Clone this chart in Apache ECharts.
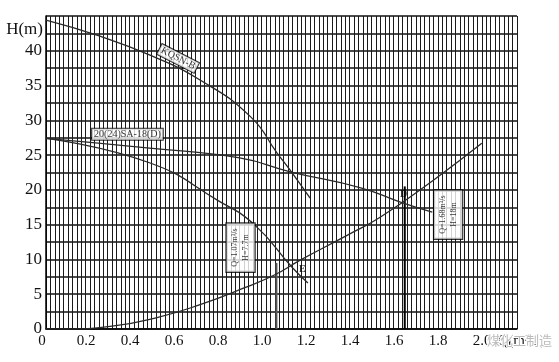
<!DOCTYPE html>
<html><head><meta charset="utf-8">
<script src="https://cdn.jsdelivr.net/npm/echarts@6/dist/echarts.min.js"></script>
<style>html,body{margin:0;padding:0;background:#fff}#c{width:559px;height:362px}</style>
</head><body><div id="c"></div>
<script>
// Pump curve KQSN-B : [Q (m3/s), H (m)]
const pumpKQS = [[0,44.4],[0.245,42.1],[0.47,39.4],[0.70,35.8],[0.93,30.5],[1.05,25.3],[1.11,22.8],[1.2,18.8]];
// Pump curve 20(24)SA-18(D), upper branch
const pumpSAUpper = [[0,27.4],[0.47,26.0],[0.88,24.6],[1.11,22.6],[1.43,20.3],[1.61,18.25],[1.755,16.8]];
// lower branch
const pumpSALower = [[0,27.4],[0.47,23.9],[0.78,18.5],[0.95,14.9],[1.12,8.8],[1.19,6.6]];
// System curve
const systemCurve = [[0,0],[0.08,0],[0.3,0.4],[0.5,1.6],[0.7,3.5],[0.9,5.9],[1.04,7.8],[1.155,9.9],[1.37,13.5],[1.52,16.1],[1.76,21.4],[1.98,26.7]];
// Operating-point vertical lines
const opLineE = [[1.047,0],[1.047,9.5]];
const opLineD = [[1.63,0],[1.63,20.5]];
// Axis tick labels
const xTickLabels = ['0','0.2','0.4','0.6','0.8','1.0','1.2','1.4','1.6','1.8','2.0'];
const yTickLabels = ['0','5','10','15','20','25','30','35','40'];
// Annotations [Q, H, text, rotation]
const annotCurveNames = [[0.6,38.9,'KQSN-B',-27],[0.37,28.0,'20(24)SA-18(D)',0]];
const annotBoxes = [[0.884,11.7,'Q=1.07m³/s\nH=7.7m',90],[1.827,16.45,'Q=1.68m³/s\nH=18m',90]];
const annotPoints = [[1.165,8.6,'E'],[1.625,19.3,'D']];

const chart = echarts.init(document.getElementById('c'), null, {renderer:'canvas'});
const lineStyle = {color:'#2a2a2a', width:1.3};
function curve(d){return {type:'line',data:d,smooth:true,showSymbol:false,symbol:'none',lineStyle:lineStyle,z:5,silent:true};}
const fmtX = v => { const s=(Math.round(v*100)/100); const i=xTickLabels.indexOf(s===0?'0':s.toFixed(1)); return (Math.abs(s*5-Math.round(s*5))<1e-6 && i>=0)? xTickLabels[i] : ''; };
const fmtY = v => { const s=String(Math.round(v*10)/10); return yTickLabels.indexOf(s)>=0 ? s : ''; };

chart.setOption({
  animation:false,
  backgroundColor:'#fff',
  grid:{left:46,right:42,top:16,bottom:33,show:false},
  xAxis:{type:'value',min:0,max:2.14,interval:0.02,
    axisLine:{show:true,onZero:false,lineStyle:{color:'#000',width:1.5}},
    axisTick:{show:false},
    splitLine:{show:true,lineStyle:{color:'#1a1a1a',width:1}},
    axisLabel:{formatter:fmtX,fontFamily:'Liberation Serif',fontSize:15,color:'#111',margin:5,padding:[0,8,0,0],showMaxLabel:false},
    name:'Q(m³/s)',nameLocation:'end',nameGap:-29,
    nameTextStyle:{fontFamily:'Liberation Serif',fontSize:15,color:'#111',verticalAlign:'top',padding:[5,0,0,0]}
  },
  yAxis:{type:'value',min:0,max:45,interval:2.5,
    axisLine:{show:true,onZero:false,lineStyle:{color:'#000',width:1.5}},
    axisTick:{show:false},
    splitLine:{show:true,lineStyle:{color:'#111',width:1.6}},
    axisLabel:{formatter:fmtY,fontFamily:'Liberation Serif',fontSize:17,color:'#111',margin:4},
    name:'H(m)',nameLocation:'end',nameGap:-22,
    nameTextStyle:{fontFamily:'Liberation Serif',fontSize:17,color:'#111',align:'right',padding:[0,3,0,0]}
  },
  series:[
    curve(pumpKQS),curve(pumpSAUpper),curve(pumpSALower),curve(systemCurve),
    {type:'line',data:opLineE,showSymbol:false,symbol:'none',lineStyle:{color:'#555',width:2},z:4,silent:true},
    {type:'line',data:opLineD,showSymbol:false,symbol:'none',lineStyle:{color:'#000',width:2},z:4,silent:true},
    {type:'scatter',symbolSize:0,z:10,silent:true,
      data:annotCurveNames.map(a=>({value:[a[0],a[1]],label:{rotate:a[3],formatter:a[2]}})),
      label:{show:true,position:'inside',fontFamily:'Liberation Serif',fontSize:10,color:'#000',backgroundColor:'#fff',borderColor:'#000',borderWidth:1,padding:[1,2,0,2]}},
    {type:'scatter',symbolSize:0,z:10,silent:true,
      data:annotBoxes.map(a=>({value:[a[0],a[1]],label:{rotate:a[3],formatter:a[2]}})),
      label:{show:true,position:'inside',fontFamily:'Liberation Serif',fontSize:8,lineHeight:11,color:'#000',backgroundColor:'#fff',borderColor:'#000',borderWidth:1.2,padding:[3,5,3,5],align:'center'}},
    {type:'scatter',symbolSize:0,z:10,silent:true,
      data:annotPoints.map(a=>({value:[a[0],a[1]],label:{formatter:a[2]}})),
      label:{show:true,position:'inside',fontFamily:'Liberation Serif',fontWeight:'bold',fontSize:10,color:'#000'}}
  ],
  graphic:[{type:'text',right:6,bottom:14,z:20,style:{text:'煤化工制造',fontFamily:'Noto Sans CJK SC',fontSize:13,fill:'#bbb',stroke:'#fff',lineWidth:2}}]
});
</script></body></html>
